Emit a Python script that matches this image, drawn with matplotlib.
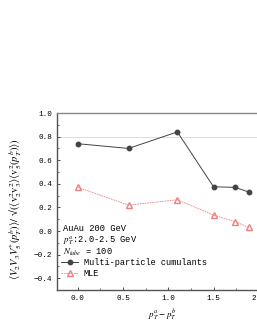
import matplotlib
matplotlib.use("Agg")
import matplotlib.pyplot as plt
from matplotlib.ticker import MultipleLocator

# data
dpt = [0.0, 0.56, 1.1, 1.5, 1.74, 1.89]
cumulants = [0.74, 0.70, 0.84, 0.375, 0.37, 0.33]
mle = [0.37, 0.22, 0.265, 0.135, 0.08, 0.03]

plt.rcParams['font.family'] = ['Liberation Mono', 'DejaVu Sans']
plt.rcParams['mathtext.fontset'] = 'stix'

fig = plt.figure(figsize=(2.57, 3.32), dpi=100)
ax = fig.add_axes([0.222, 0.1265, 0.82, 0.533])

ax.axhline(0.8, color='#d8d8d8', lw=0.6, zorder=0)
ax.plot(dpt, cumulants, '-o', color='#444444', mfc='#444444', mec='#444444',
        ms=3.2, lw=0.7, label='Multi-particle cumulants')
ax.plot(dpt, mle, '--^', color='#f08080', mfc='none', mec='#f08080',
        ms=4, lw=0.6, dashes=(2, 1), label='MLE')

ax.set_xlim(-0.23, 2.1)
ax.set_ylim(-0.5, 1.0)
ax.xaxis.set_major_locator(MultipleLocator(0.5))
ax.xaxis.set_minor_locator(MultipleLocator(0.25))
ax.yaxis.set_major_locator(MultipleLocator(0.2))
ax.yaxis.set_minor_locator(MultipleLocator(0.1))
ax.xaxis.set_major_formatter(lambda v, p: f"{v:.1f}")
ax.yaxis.set_major_formatter(lambda v, p: f"{v:.1f}".replace('-', '\u2212'))
ax.tick_params(which='both', direction='in', labelsize=5.5, color='#333333')
ax.tick_params(which='major', length=2.5, width=0.6)
ax.tick_params(which='minor', length=1.5, width=0.5)
for s in ax.spines.values():
    s.set_linewidth(1.0)
    s.set_color('#555555')
ax.spines['top'].set_color('#888888')

ax.set_xlabel(r'$p_T^a - p_T^b$', fontsize=6.5)
ax.set_ylabel(r'$\langle V_2V_3V_5^{*}(p_T^b)\rangle /\ $√$(\langle \mathrm{v}_2^2\mathrm{v}_3^2\rangle\langle \mathrm{v}_5^2(p_T^b)\rangle)$',
              fontsize=7.6)
ax.yaxis.set_label_coords(-0.155, 0.46)

ax.text(0.03, 0.345, 'AuAu 200 GeV', transform=ax.transAxes, fontsize=6.3, va='center')
ax.text(0.03, 0.278, r'$p_T^a$:2.0-2.5 GeV', transform=ax.transAxes, fontsize=6.3, va='center')
ax.text(0.03, 0.212, r'$N_{tube}$ = 100', transform=ax.transAxes, fontsize=6.3, va='center')
ax.legend(loc='lower left', bbox_to_anchor=(-0.005, 0.04), fontsize=6.2, frameon=False,
          handlelength=2.0, handletextpad=0.6, labelspacing=0.25, borderaxespad=0.2)

fig.savefig('out.png', dpi=100)
